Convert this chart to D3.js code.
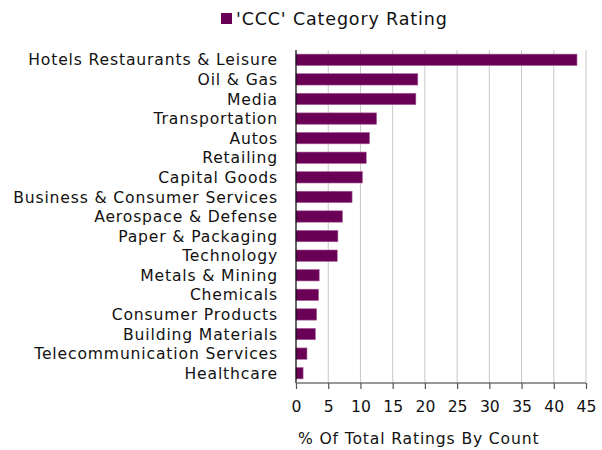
<!DOCTYPE html>
<html>
<head>
<meta charset="utf-8">
<script src="https://cdn.jsdelivr.net/npm/d3@7"></script>
<style>
  body { margin: 0; background: #fff; }
  text { font-family: "DejaVu Sans", sans-serif; fill: #111; }
  .lbl { letter-spacing: 0.85px; }
</style>
</head>
<body>
<div class="canvas"></div>
<script>
var width = 602,
   height = 450;

// data
var categories = [
   'Hotels Restaurants & Leisure', 'Oil & Gas', 'Media', 'Transportation',
   'Autos', 'Retailing', 'Capital Goods', 'Business & Consumer Services',
   'Aerospace & Defense', 'Paper & Packaging', 'Technology', 'Metals & Mining',
   'Chemicals', 'Consumer Products', 'Building Materials',
   'Telecommunication Services', 'Healthcare'
];
var values = [43.6, 18.9, 18.6, 12.5, 11.4, 10.9, 10.3, 8.7, 7.2, 6.5, 6.4,
   3.6, 3.5, 3.2, 3.0, 1.7, 1.1];
var xTicks = [0, 5, 10, 15, 20, 25, 30, 35, 40, 45];
var seriesName = "'CCC' Category Rating";
var axisTitle = '% Of Total Ratings By Count';

var barColor = '#6a0056';
var font = '"DejaVu Sans", sans-serif';

var margin = {top: 50, left: 296, right: 16, bottom: 67};

var x = d3.scaleLinear()
   .domain([0, 45])
   .range([margin.left, width - margin.right]);

var y = d3.scaleBand()
   .domain(categories)
   .range([margin.top, height - margin.bottom])
   .paddingInner(0.42)
   .paddingOuter(0.21);

var svg = d3.select('.canvas')
   .append('svg')
   .attr('width', width)
   .attr('height', height);

// gridlines
svg.append('g')
   .selectAll('line')
   .data(xTicks.slice(1))
   .enter().append('line')
      .attr('x1', d => x(d))
      .attr('x2', d => x(d))
      .attr('y1', margin.top)
      .attr('y2', height - margin.bottom)
      .attr('stroke', '#c8c8c8')
      .attr('stroke-width', 1);

// bars
svg.append('g')
   .selectAll('rect')
   .data(values)
   .enter().append('rect')
      .attr('x', x(0))
      .attr('y', (d, i) => y(categories[i]))
      .attr('width', d => x(d) - x(0))
      .attr('height', y.bandwidth())
      .attr('fill', barColor)
      .attr('stroke', '#a8619a')
      .attr('stroke-width', 0.6);

// category labels
svg.append('g')
   .selectAll('text')
   .data(categories)
   .enter().append('text')
      .attr('class', 'lbl')
      .attr('x', margin.left - 18)
      .attr('y', d => y(d) + y.bandwidth() / 2)
      .attr('dy', '0.36em')
      .attr('text-anchor', 'end')
      .style('font-size', '15.6px')
      .text(d => d);

// left axis line
svg.append('line')
   .attr('x1', x(0)).attr('x2', x(0))
   .attr('y1', margin.top).attr('y2', height - margin.bottom)
   .attr('stroke', '#000')
   .attr('stroke-width', 1.2);

// bottom axis
var xAxis = d3.axisBottom(x)
   .tickValues(xTicks)
   .tickSize(6)
   .tickPadding(12)
   .tickFormat(d3.format('d'));

var gx = svg.append('g')
   .attr('transform', 'translate(0,' + (height - margin.bottom) + ')')
   .call(xAxis);
gx.select('.domain').attr('stroke', '#777').attr('stroke-width', 1.5)
   .attr('d', 'M' + x(0) + ',0H' + x(45));
gx.selectAll('.tick line').attr('stroke', '#555').attr('stroke-width', 1.2);
gx.selectAll('.tick text')
   .style('font-size', '15.6px')
   .style('font-family', font)
   .attr('fill', '#111');

// axis title
svg.append('text')
   .attr('class', 'lbl')
   .attr('x', 298)
   .attr('y', 444)
   .style('font-size', '15.6px')
   .text(axisTitle);

// legend
var legend = svg.append('g');
legend.append('rect')
   .attr('x', 221).attr('y', 13)
   .attr('width', 11).attr('height', 11)
   .attr('fill', barColor);
legend.append('text')
   .attr('class', 'lbl')
   .attr('x', 236).attr('y', 25)
   .style('font-size', '17.5px')
   .text(seriesName);
</script>
</body>
</html>
